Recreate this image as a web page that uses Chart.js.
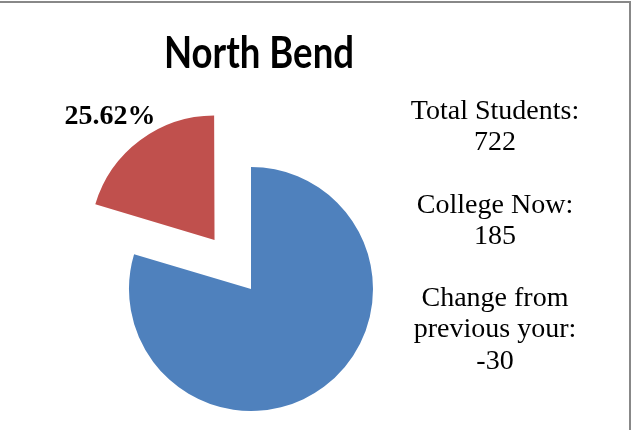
<!DOCTYPE html>
<html>
<head>
<meta charset="utf-8">
<script src="https://cdn.jsdelivr.net/npm/chart.js@4/dist/chart.umd.min.js"></script>
<style>
  html, body { margin: 0; padding: 0; background: #fff; }
  #wrap { position: relative; width: 632px; height: 430px; overflow: hidden; background: #fff; }
  #c { position: absolute; left: 0; top: 0; }
  .line { position: absolute; background: #888888; }
  #title { position: absolute; left: 0; width: 518px; top: 31px; text-align: center;
           font-family: Lato, sans-serif; font-weight: bold; font-size: 43px; line-height: 42px; color: #000;
           transform: scaleX(0.85); transform-origin: 50% 50%; }
  #info { position: absolute; left: 395px; width: 200px; top: 94px; text-align: center;
          font-family: "Liberation Serif", serif; font-size: 28px; line-height: 31.2px; color: #000; white-space: pre; }
  #pct { position: absolute; font-family: "Liberation Serif", serif; font-weight: bold; font-size: 28px;
         line-height: 28px; color: #000; white-space: nowrap; }
</style>
</head>
<body>
<div id="wrap">
  <canvas id="c" width="632" height="430"></canvas>
  <div class="line" style="left:0;top:1px;width:631px;height:2px;"></div>
  <div class="line" style="left:629px;top:1px;width:2px;height:429px;"></div>
  <div id="title"></div>
  <div id="info"></div>
  <div id="pct"></div>
</div>
<script>
// ---- data ----
const chartTitle = 'North Bend';
const categories = ['Total Students', 'College Now'];
const values = [722, 185];
const changeFromPrevious = -30;
const sliceColors = ['#4F81BD', '#C0504D'];
const infoLines = [
  'Total Students:', String(values[0]), '',
  'College Now:', String(values[1]), '',
  'Change from', 'previous your:', String(changeFromPrevious)
];
// percentage shown on the exploded slice: College Now / Total Students
const pctText = (values[1] / values[0] * 100).toFixed(2) + '%';

document.getElementById('title').textContent = chartTitle;
document.getElementById('info').textContent = infoLines.join('\n');

const labelPlugin = {
  id: 'pctLabel',
  afterDraw(chart) {
    const arc = chart.getDatasetMeta(0).data[1];
    const mid = (arc.startAngle + arc.endAngle) / 2;
    const shift = (arc.options.offset || 0) / 4;
    const r = arc.outerRadius + shift;
    const ax = arc.x + Math.cos(mid) * r;
    const ay = arc.y + Math.sin(mid) * r;
    const el = document.getElementById('pct');
    el.textContent = pctText;
    const w = el.offsetWidth;
    el.style.left = (ax + 14 - w) + 'px';
    el.style.top = (ay - 18 - 23.5) + 'px';
  }
};

new Chart(document.getElementById('c'), {
  type: 'pie',
  data: {
    labels: categories,
    datasets: [{
      data: values,
      backgroundColor: sliceColors,
      borderWidth: 0,
      offset: [0, 244],
      radius: 122,
      clip: false
    }]
  },
  options: {
    responsive: false,
    animation: false,
    events: [],
    layout: { padding: { left: 121, right: 251, top: 159, bottom: 11 } },
    plugins: { legend: { display: false }, tooltip: { enabled: false }, title: { display: false } }
  },
  plugins: [labelPlugin]
});
</script>
</body>
</html>
